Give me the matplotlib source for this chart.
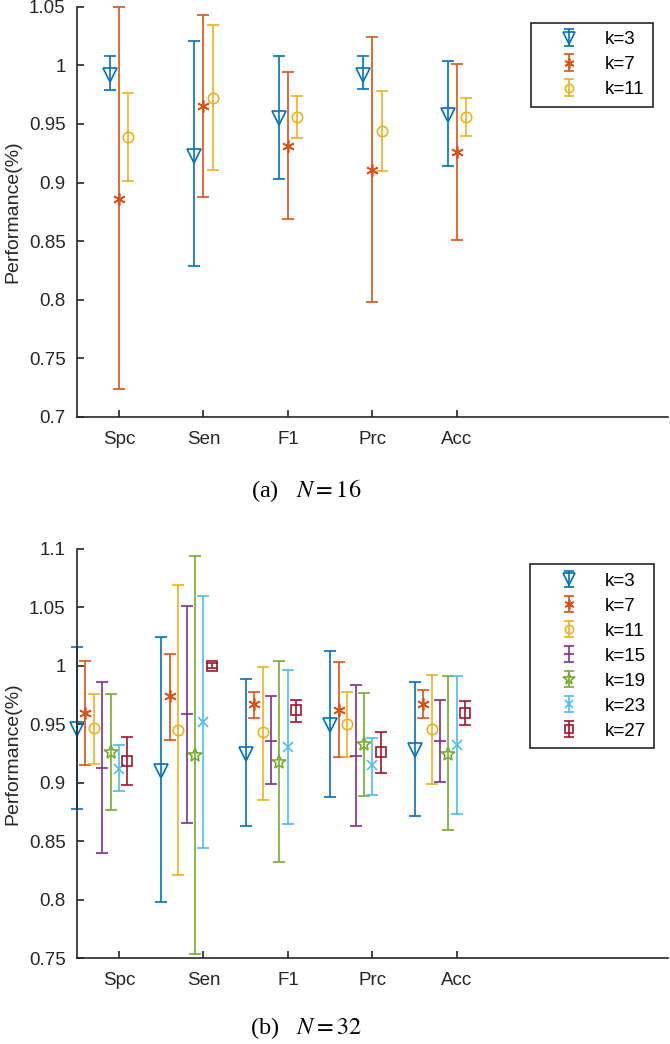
import matplotlib
matplotlib.use("Agg")
import matplotlib.pyplot as plt
from matplotlib.ticker import FuncFormatter
from matplotlib.legend_handler import HandlerErrorbar
import numpy as np

plt.rcParams.update({"font.family": ["Liberation Sans", "DejaVu Sans"],
                     "font.size": 13.5,
                     "mathtext.fontset": "stix"})

categories = ["Spc", "Sen", "F1", "Prc", "Acc"]

# panel (a): N = 16
a_labels = ["k=3", "k=7", "k=11"]
a_k3_mean = [0.992, 0.923, 0.955, 0.992, 0.958]
a_k3_hi = [1.008, 1.021, 1.008, 1.008, 1.004]
a_k3_lo = [0.979, 0.829, 0.903, 0.980, 0.914]
a_k7_mean = [0.886, 0.965, 0.931, 0.911, 0.926]
a_k7_hi = [1.050, 1.043, 0.994, 1.024, 1.001]
a_k7_lo = [0.724, 0.888, 0.869, 0.798, 0.851]
a_k11_mean = [0.939, 0.972, 0.956, 0.944, 0.956]
a_k11_hi = [0.976, 1.034, 0.974, 0.978, 0.972]
a_k11_lo = [0.901, 0.911, 0.938, 0.910, 0.940]
a_yticks = [0.7, 0.75, 0.8, 0.85, 0.9, 0.95, 1.0, 1.05]

# panel (b): N = 32
b_labels = ["k=3", "k=7", "k=11", "k=15", "k=19", "k=23", "k=27"]
b_k3_mean = [0.946, 0.910, 0.925, 0.949, 0.928]
b_k3_hi = [1.016, 1.025, 0.989, 1.013, 0.986]
b_k3_lo = [0.878, 0.798, 0.863, 0.888, 0.872]
b_k7_mean = [0.960, 0.974, 0.967, 0.962, 0.967]
b_k7_hi = [1.004, 1.010, 0.978, 1.003, 0.979]
b_k7_lo = [0.915, 0.937, 0.955, 0.922, 0.955]
b_k11_mean = [0.947, 0.945, 0.943, 0.950, 0.946]
b_k11_hi = [0.976, 1.069, 0.999, 0.978, 0.992]
b_k11_lo = [0.916, 0.821, 0.885, 0.922, 0.899]
b_k15_mean = [0.913, 0.959, 0.936, 0.923, 0.936]
b_k15_hi = [0.986, 1.051, 0.974, 0.984, 0.971]
b_k15_lo = [0.840, 0.866, 0.899, 0.863, 0.901]
b_k19_mean = [0.926, 0.924, 0.918, 0.933, 0.925]
b_k19_hi = [0.976, 1.094, 1.004, 0.977, 0.991]
b_k19_lo = [0.877, 0.754, 0.832, 0.889, 0.860]
b_k23_mean = [0.912, 0.952, 0.931, 0.915, 0.932]
b_k23_hi = [0.932, 1.060, 0.996, 0.938, 0.991]
b_k23_lo = [0.893, 0.844, 0.865, 0.890, 0.873]
b_k27_mean = [0.919, 1.000, 0.962, 0.926, 0.960]
b_k27_hi = [0.939, 1.002, 0.971, 0.943, 0.970]
b_k27_lo = [0.898, 0.998, 0.952, 0.908, 0.949]
b_yticks = [0.75, 0.8, 0.85, 0.9, 0.95, 1.0, 1.05, 1.1]

colors = ["#0072BD", "#D95319", "#EDB120", "#7E2F8E", "#77AC30", "#4DBEEE", "#A2142F"]
asterisk = (6, 2, 0)
markers = ["v", asterisk, "o", "_", "*", "x", "s"]
msizes = [10, 9, 7.5, 9, 10.5, 7, 7]


def draw_panel(ax, series, labels, offsets, ylim, yticks):
    x = np.arange(1, len(categories) + 1)
    for i, (mean, hi, lo) in enumerate(series):
        mean = np.array(mean)
        err = [mean - np.array(lo), np.array(hi) - mean]
        eb = ax.errorbar(x + offsets[i], mean, yerr=err, fmt="none",
                         ecolor=colors[i], elinewidth=1.2, capsize=4.3, capthick=1.2)
        for art in eb.lines[1] + eb.lines[2]:
            art.set_clip_on(False)
        ax.plot(x + offsets[i], mean, linestyle="none", marker=markers[i],
                ms=msizes[i], mfc="none", mec=colors[i], mew=1.2, clip_on=False)
        # proxy artist for legend
        ax.errorbar([np.nan], [np.nan], yerr=[[0.01], [0.01]], fmt="",
                    marker=markers[i], linestyle="none",
                    color=colors[i], mfc="none", mec=colors[i], mew=1.2,
                    ms=msizes[i] * 0.8, capsize=3.5,
                    elinewidth=1.2, capthick=1.2, label=labels[i])
    ax.set_xlim(0.5, 7.5)
    ax.set_ylim(*ylim)
    ax.set_xticks(x)
    ax.set_xticklabels(categories)
    ax.set_yticks(yticks)
    ax.yaxis.set_major_formatter(FuncFormatter(lambda v, p: "%g" % round(v, 4)))
    ax.spines["top"].set_visible(False)
    ax.spines["right"].set_visible(False)
    for s in ["left", "bottom"]:
        ax.spines[s].set_color("#262626")
        ax.spines[s].set_linewidth(1.2)
    ax.tick_params(direction="in", length=5, width=1.2, color="#262626", labelcolor="#262626")
    ax.tick_params(axis="x", pad=10)
    ax.tick_params(axis="y", pad=8)


fig = plt.figure(figsize=(6.7, 10.44), dpi=100)
W, H = 670.0, 1044.0
ax1 = fig.add_axes([76.7 / W, 1 - 417 / H, 591.5 / W, 410.3 / H])
ax2 = fig.add_axes([76.7 / W, 1 - 958.3 / H, 591.5 / W, 409.5 / H])

series_a = [(a_k3_mean, a_k3_hi, a_k3_lo),
            (a_k7_mean, a_k7_hi, a_k7_lo),
            (a_k11_mean, a_k11_hi, a_k11_lo)]
series_b = [(b_k3_mean, b_k3_hi, b_k3_lo),
            (b_k7_mean, b_k7_hi, b_k7_lo),
            (b_k11_mean, b_k11_hi, b_k11_lo),
            (b_k15_mean, b_k15_hi, b_k15_lo),
            (b_k19_mean, b_k19_hi, b_k19_lo),
            (b_k23_mean, b_k23_hi, b_k23_lo),
            (b_k27_mean, b_k27_hi, b_k27_lo)]

draw_panel(ax1, series_a, a_labels, [-0.11, 0.0, 0.11], (0.7, 1.05), a_yticks)
draw_panel(ax2, series_b, b_labels, [-0.5, -0.4, -0.3, -0.2, -0.1, 0.0, 0.1], (0.75, 1.1), b_yticks)

for ax, anchor in [(ax1, (0.974, 0.961)), (ax2, (0.976, 0.963))]:
    leg = ax.legend(loc="upper right", bbox_to_anchor=anchor, borderaxespad=0,
                    fancybox=False, handlelength=3.2, handletextpad=0.3,
                    labelspacing=0.42, borderpad=0.45, framealpha=1,
                    handler_map={matplotlib.container.ErrorbarContainer:
                                 HandlerErrorbar(yerr_size=0.45)})
    leg.get_frame().set_edgecolor("#262626")
    leg.get_frame().set_linewidth(1.2)

# y labels
fig.text(13 / W, 1 - 212 / H, "Performance(%)", rotation=90, ha="center", va="center",
         fontsize=14, color="#262626")
fig.text(13 / W, 1 - 753.5 / H, "Performance(%)", rotation=90, ha="center", va="center",
         fontsize=14, color="#262626")

fig.text(306 / W, 1 - 491 / H, r"(a)   $N=16$", ha="center", va="center",
         fontsize=17.5, family=["Liberation Serif", "DejaVu Serif"])
fig.text(306 / W, 1 - 1028 / H, r"(b)   $N=32$", ha="center", va="center",
         fontsize=17.5, family=["Liberation Serif", "DejaVu Serif"])

fig.savefig("out.png", dpi=100)
